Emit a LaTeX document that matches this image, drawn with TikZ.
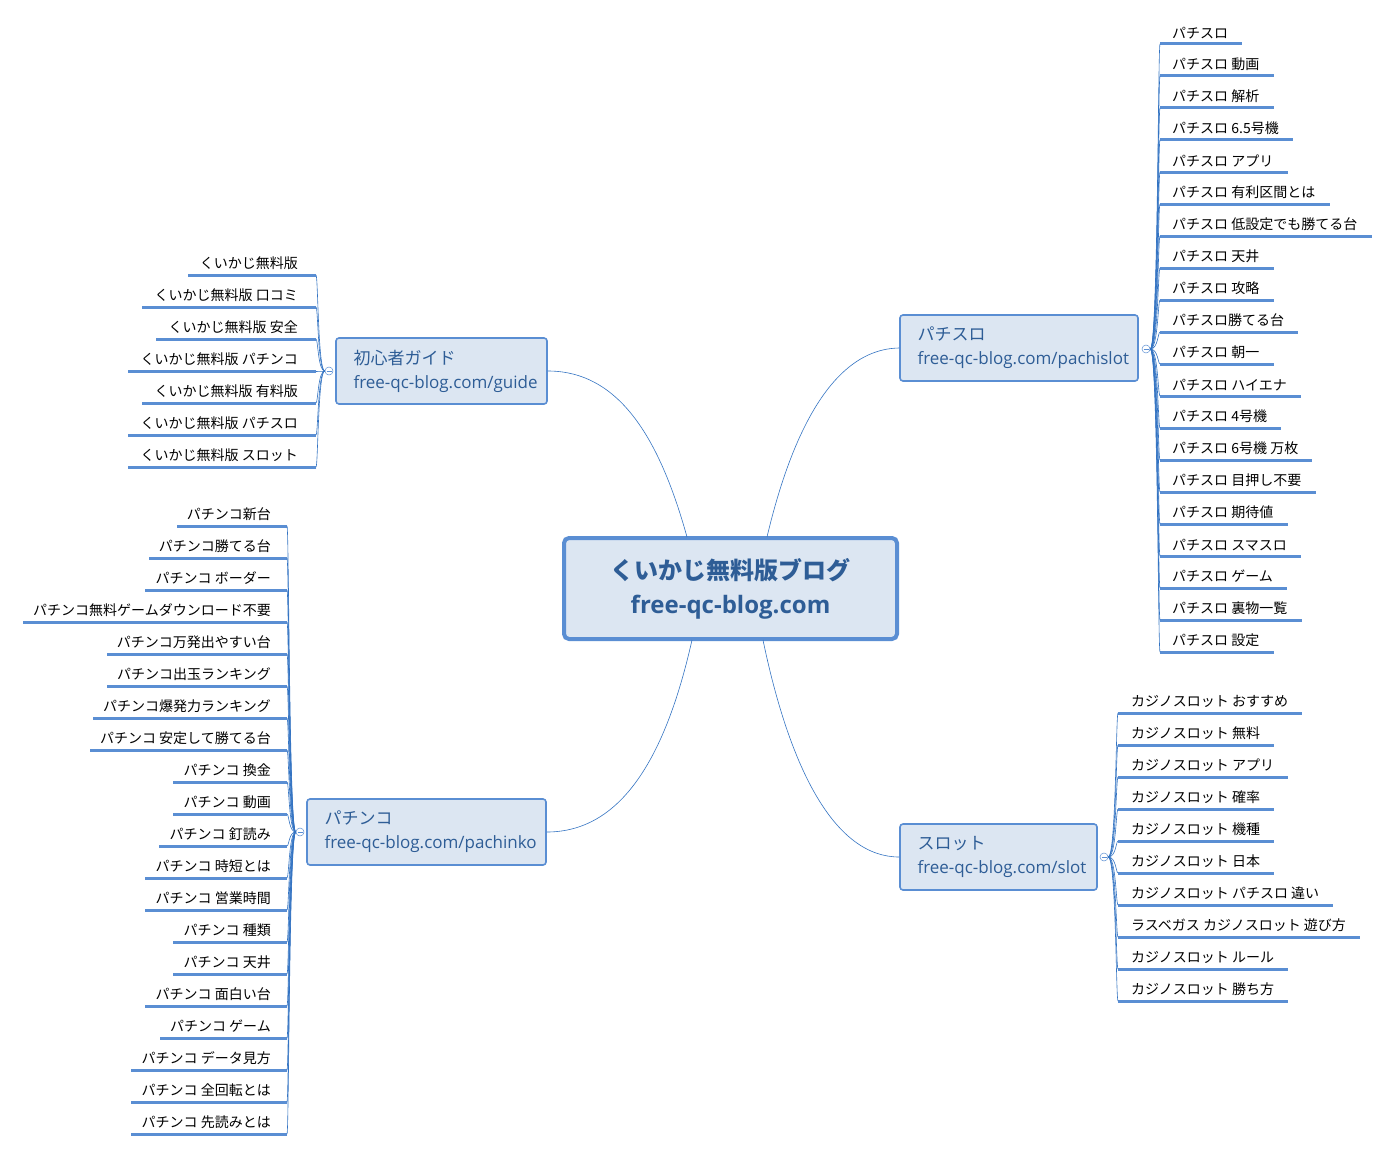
\documentclass[tikz,border=0pt]{standalone}
\usepackage{fontspec}
\setmainfont{Noto Sans CJK JP}
\newfontfamily\latinf{Open Sans}
\begin{document}
\begin{tikzpicture}[x=1pt,y=-1pt,
  conn/.style={draw=blue!55!cyan!70!black!80, line width=0.6pt},
  uline/.style={draw=linec, line width=3pt},
  leaf/.style={inner sep=0pt, font=\fontsize{14}{16}\selectfont},
  topic/.style={draw=linec, line width=1.6pt, rounded corners=3pt, fill=boxf, align=left, text=txtc, font=\fontsize{17}{22}\selectfont, inner sep=0pt},
  hub/.style={circle, draw=linec, fill=white, line width=0.5pt, minimum size=8pt, inner sep=0pt}]
\definecolor{linec}{HTML}{5A8ED3}
\definecolor{boxf}{HTML}{DCE6F2}
\definecolor{txtc}{HTML}{2E5D96}
\useasboundingbox (0,0) rectangle (1392,1153);
% central
\node[draw=linec, line width=4pt, rounded corners=5pt, fill=boxf, minimum width=333, minimum height=101, align=center, text=txtc, font=\fontsize{24}{34}\selectfont\bfseries] (main) at (730.5,588.5) {くいかじ無料版ブログ\\{\latinf\bfseries free-qc-blog.com}};
% topics
\node[topic, minimum width=211, minimum height=66] (guide) at (441.5,371) {};
\node[anchor=west, align=left, text=txtc, font=\fontsize{17}{24}\selectfont] at (350,371) {初心者ガイド\\{\latinf free-qc-blog.com/guide}};
\node[topic, minimum width=238, minimum height=66] (pslot) at (1019,348) {};
\node[anchor=west, align=left, text=txtc, font=\fontsize{17}{24}\selectfont] at (914,348) {パチスロ\\{\latinf free-qc-blog.com/pachislot}};
\node[topic, minimum width=239, minimum height=66] (pko) at (426.5,832) {};
\node[anchor=west, align=left, text=txtc, font=\fontsize{17}{24}\selectfont] at (321,832) {パチンコ\\{\latinf free-qc-blog.com/pachinko}};
\node[topic, minimum width=197, minimum height=66] (slot) at (998.5,857) {};
\node[anchor=west, align=left, text=txtc, font=\fontsize{17}{24}\selectfont] at (914,857) {スロット\\{\latinf free-qc-blog.com/slot}};
% main connectors
\coordinate (m1) at (687,537); \coordinate (m2) at (767,537);
\coordinate (m3) at (692,640); \coordinate (m4) at (763,640);
\draw[conn] (m1) .. controls (660,440) and (620,371) .. (guide.east);
\draw[conn] (m2) .. controls (790,440) and (830,349) .. (pslot.west);
\draw[conn] (m3) .. controls (665,760) and (620,832) .. (pko.east);
\draw[conn] (m4) .. controls (790,770) and (835,857) .. (slot.west);
% hubs
\node[hub] (h1) at (1146,349) {};
\node[hub] (h2) at (329,371) {};
\node[hub] (h3) at (300,832) {};
\node[hub] (h4) at (1104,857) {};
% right leaves: pachislot
\foreach \t [count=\i from 0] in {パチスロ,パチスロ 動画,パチスロ 解析,パチスロ 6.5号機,パチスロ アプリ,パチスロ 有利区間とは,パチスロ 低設定でも勝てる台,パチスロ 天井,パチスロ 攻略,パチスロ勝てる台,パチスロ 朝一,パチスロ ハイエナ,パチスロ 4号機,パチスロ 6号機 万枚,パチスロ 目押し不要,パチスロ 期待値,パチスロ スマスロ,パチスロ ゲーム,パチスロ 裏物一覧,パチスロ 設定}{
  \pgfmathsetmacro{\yy}{44+32*\i}
  \node[leaf, anchor=south west] (ps\i) at (1172,\yy-5) {\t};
  \coordinate (psa\i) at (1160,\yy);
  \draw[uline] (psa\i) -- (ps\i.east |- psa\i) -- ++(14,0);
  \draw[conn] (h1.east) .. controls (1158,349) and (1158,\yy) .. (psa\i);
}
% slot
\foreach \t [count=\i from 0] in {カジノスロット おすすめ,カジノスロット 無料,カジノスロット アプリ,カジノスロット 確率,カジノスロット 機種,カジノスロット 日本,カジノスロット パチスロ 違い,ラスベガス カジノスロット 遊び方,カジノスロット ルール,カジノスロット 勝ち方}{
  \pgfmathsetmacro{\yy}{713+32*\i}
  \node[leaf, anchor=south west] (sl\i) at (1131,\yy-5) {\t};
  \coordinate (sla\i) at (1118,\yy);
  \draw[uline] (sla\i) -- (sl\i.east |- sla\i) -- ++(14,0);
  \draw[conn] (h4.east) .. controls (1116,857) and (1116,\yy) .. (sla\i);
}
% guide
\foreach \t [count=\i from 0] in {くいかじ無料版,くいかじ無料版 口コミ,くいかじ無料版 安全,くいかじ無料版 パチンコ,くいかじ無料版 有料版,くいかじ無料版 パチスロ,くいかじ無料版 スロット}{
  \pgfmathsetmacro{\yy}{275+32*\i}
  \node[leaf, anchor=south east] (gd\i) at (298,\yy-5) {\t};
  \coordinate (gda\i) at (316,\yy);
  \draw[uline] (gda\i) -- (gd\i.west |- gda\i) -- ++(-12,0);
  \draw[conn] (h2.west) .. controls (318,371) and (318,\yy) .. (gda\i);
}
% pachinko
\foreach \t [count=\i from 0] in {パチンコ新台,パチンコ勝てる台,パチンコ ボーダー,パチンコ無料ゲームダウンロード不要,パチンコ万発出やすい台,パチンコ出玉ランキング,パチンコ爆発力ランキング,パチンコ 安定して勝てる台,パチンコ 換金,パチンコ 動画,パチンコ 釘読み,パチンコ 時短とは,パチンコ 営業時間,パチンコ 種類,パチンコ 天井,パチンコ 面白い台,パチンコ ゲーム,パチンコ データ見方,パチンコ 全回転とは,パチンコ 先読みとは}{
  \pgfmathsetmacro{\yy}{526+32*\i}
  \node[leaf, anchor=south east] (pk\i) at (271,\yy-5) {\t};
  \coordinate (pka\i) at (287,\yy);
  \draw[uline] (pka\i) -- (pk\i.west |- pka\i) -- ++(-10,0);
  \draw[conn] (h3.west) .. controls (289,832) and (289,\yy) .. (pka\i);
}
% hub minus signs
\foreach \h in {h1,h2,h3,h4}{\draw[linec, line width=0.5pt] ([xshift=-2.5pt]\h.center) -- ([xshift=2.5pt]\h.center);}
\end{tikzpicture}
\end{document}
